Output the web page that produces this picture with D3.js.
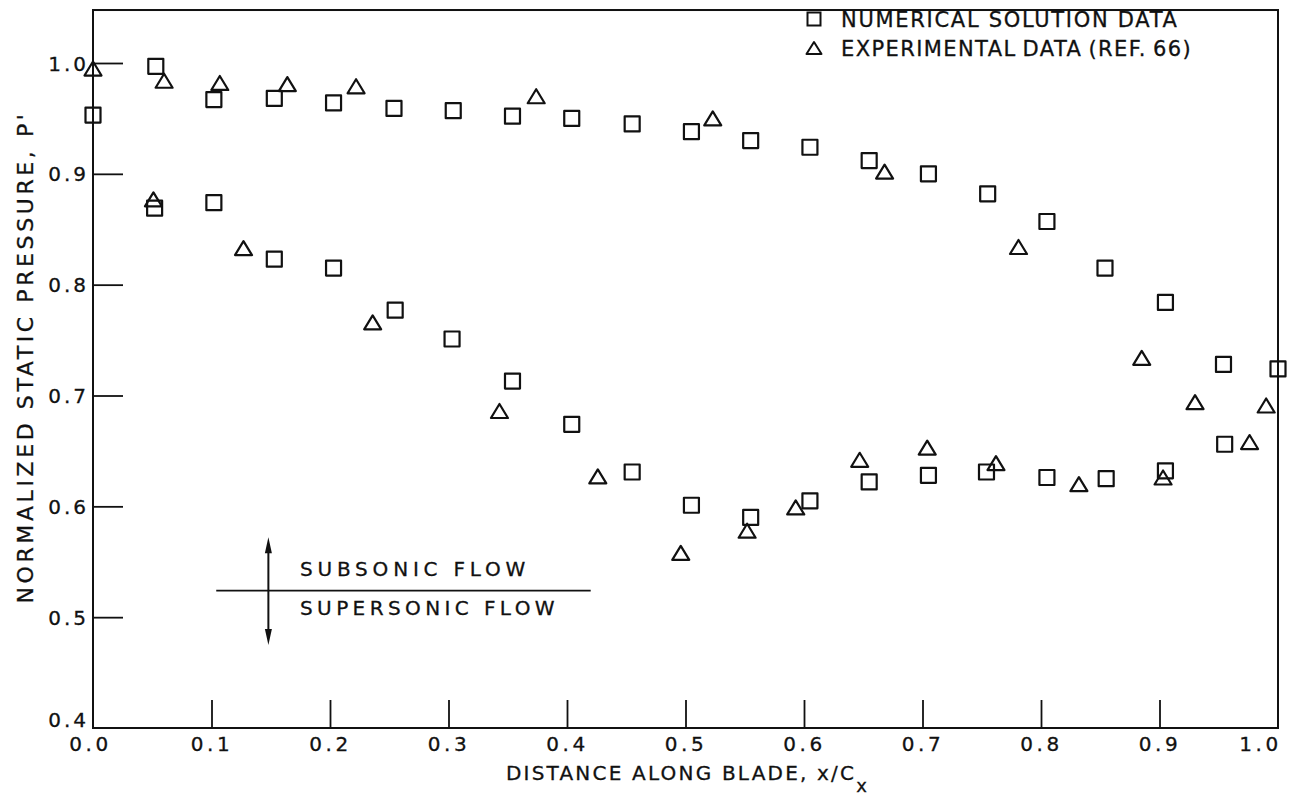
<!DOCTYPE html>
<html>
<head>
<meta charset="utf-8">
<script src="https://cdn.jsdelivr.net/npm/d3@7"></script>
<style>
  html, body { margin: 0; padding: 0; background: #fff; }
  svg { display: block; }
  text { font-family: "DejaVu Sans", sans-serif; fill: #111; stroke: #111; stroke-width: 0.3px; }
</style>
</head>
<body>
<svg id="chart" width="1292" height="800"></svg>
<script>
// ---------------- DATA ----------------
const xTicks = [0.0, 0.1, 0.2, 0.3, 0.4, 0.5, 0.6, 0.7, 0.8, 0.9, 1.0];
const yTicks = [0.4, 0.5, 0.6, 0.7, 0.8, 0.9, 1.0];

// Numerical solution data (squares) - upper branch
const numUpperX = [0.0, 0.053, 0.102, 0.153, 0.203, 0.254, 0.304, 0.354, 0.404, 0.455, 0.505, 0.555, 0.605, 0.655, 0.705, 0.755, 0.805, 0.854, 0.905, 0.954, 1.0];
const numUpperY = [0.953, 0.997, 0.967, 0.968, 0.964, 0.959, 0.957, 0.952, 0.950, 0.945, 0.938, 0.930, 0.924, 0.912, 0.900, 0.882, 0.857, 0.815, 0.784, 0.728, 0.724];
// Numerical solution data (squares) - lower branch
const numLowerX = [0.052, 0.102, 0.153, 0.203, 0.255, 0.303, 0.354, 0.404, 0.455, 0.505, 0.555, 0.605, 0.655, 0.705, 0.754, 0.805, 0.855, 0.905, 0.955];
const numLowerY = [0.869, 0.874, 0.823, 0.815, 0.777, 0.751, 0.713, 0.674, 0.631, 0.601, 0.590, 0.605, 0.622, 0.628, 0.631, 0.626, 0.625, 0.632, 0.656];

// Experimental data (triangles)
const expUpperX = [0.0, 0.060, 0.107, 0.164, 0.222, 0.374, 0.523, 0.668, 0.781, 0.885, 0.930, 0.990];
const expUpperY = [0.995, 0.984, 0.982, 0.981, 0.979, 0.970, 0.950, 0.902, 0.834, 0.734, 0.694, 0.691];
const expLowerX = [0.051, 0.127, 0.236, 0.343, 0.426, 0.496, 0.552, 0.593, 0.647, 0.704, 0.762, 0.832, 0.903, 0.976];
const expLowerY = [0.877, 0.833, 0.766, 0.686, 0.627, 0.558, 0.578, 0.599, 0.642, 0.653, 0.639, 0.620, 0.626, 0.658];

const legendLabels = ["NUMERICAL SOLUTION DATA", "EXPERIMENTAL DATA (REF. 66)"];
const flowLabels = ["SUBSONIC FLOW", "SUPERSONIC FLOW"];
const sonicLevel = 0.524;      // boundary line value
const arrowRange = [0.572, 0.475];
const arrowX = 0.148;
const lineRange = [0.104, 0.420];

// ---------------- LAYOUT ----------------
const svg = d3.select("#chart");
const x = d3.scaleLinear().domain([0, 1]).range([93, 1278]);
const y = d3.scaleLinear().domain([0.4, 1.0]).range([728, 63]);
const yTop = 1.0478;

const ink = "#111";

// Frame
svg.append("rect")
  .attr("x", x(0)).attr("y", y(yTop))
  .attr("width", x(1) - x(0)).attr("height", y(0.4) - y(yTop))
  .attr("fill", "none").attr("stroke", ink).attr("stroke-width", 2);

// Y axis (ticks inward)
const yAxis = d3.axisLeft(y).tickValues(yTicks).tickSize(-30).tickPadding(4)
  .tickFormat(d3.format(".1f"));
const gy = svg.append("g").attr("transform", `translate(${x(0)},0)`).call(yAxis);
gy.select(".domain").remove();
gy.selectAll(".tick line").attr("stroke", ink).attr("stroke-width", 1.8)
  .filter(d => d === 0.4).remove();
gy.selectAll(".tick text")
  .attr("font-size", 20).attr("letter-spacing", "3px")
  .attr("font-family", "DejaVu Sans, sans-serif").attr("fill", ink)
  .attr("dy", d => d === 0.4 ? "-0.1em" : "0.35em");

// X axis (ticks inward / upward)
const xAxis = d3.axisBottom(x).tickValues(xTicks).tickSize(-28).tickPadding(9)
  .tickFormat(d3.format(".1f"));
const gx = svg.append("g").attr("transform", `translate(0,${y(0.4)})`).call(xAxis);
gx.select(".domain").remove();
gx.selectAll(".tick line").attr("stroke", ink).attr("stroke-width", 1.8)
  .filter(d => d === 0 || d === 1).remove();
gx.selectAll(".tick text")
  .attr("font-size", 20).attr("letter-spacing", "3.5px")
  .attr("font-family", "DejaVu Sans, sans-serif").attr("fill", ink)
  .attr("dx", d => d === 1 ? -18 : (d === 0 ? -3 : 0));

// Axis titles
const xt = svg.append("text").attr("x", 506).attr("y", 780)
  .attr("font-size", 20).attr("letter-spacing", "2.2px");
xt.append("tspan").text("DISTANCE ALONG BLADE, x/C");
xt.append("tspan").attr("dy", 12).attr("font-size", 18).text("x");

svg.append("text")
  .attr("transform", `translate(33,${357}) rotate(-90)`)
  .attr("text-anchor", "middle")
  .attr("font-size", 22).attr("letter-spacing", "3.6px")
  .text("NORMALIZED STATIC PRESSURE, P'");

// ---------------- MARKERS ----------------
const sq = 15, triW = 17, triH = 14;
const squarePath = `M${-sq/2},${-sq/2}h${sq}v${sq}h${-sq}Z`;
const triPath = `M0,${-triH/2}L${triW/2},${triH/2}L${-triW/2},${triH/2}Z`;

function drawSet(xs, ys, path) {
  svg.append("g").selectAll("path")
    .data(xs.map((v, i) => ({x: v, y: ys[i]})))
    .join("path")
    .attr("d", path)
    .attr("transform", d => `translate(${x(d.x)},${y(d.y)})`)
    .attr("fill", "none").attr("stroke", ink).attr("stroke-width", 2.2)
    .attr("stroke-linejoin", "round");
}
drawSet(numUpperX, numUpperY, squarePath);
drawSet(numLowerX, numLowerY, squarePath);
drawSet(expUpperX, expUpperY, triPath);
drawSet(expLowerX, expLowerY, triPath);

// ---------------- LEGEND ----------------
const legX = 814, legY = [19, 48];
const lg = svg.append("g");
lg.append("path").attr("d", `M-6.5,-6.5h13v13h-13Z`)
  .attr("transform", `translate(${legX},${legY[0]})`)
  .attr("fill", "none").attr("stroke", ink).attr("stroke-width", 2);
lg.append("path").attr("d", `M0,-6L7.5,6L-7.5,6Z`)
  .attr("transform", `translate(${legX},${legY[1]})`)
  .attr("fill", "none").attr("stroke", ink).attr("stroke-width", 2).attr("stroke-linejoin", "round");
legendLabels.forEach((t, i) => {
  lg.append("text").attr("x", legX + 27).attr("y", legY[i]).attr("dy", "0.36em")
    .attr("font-size", 21).attr("letter-spacing", i === 0 ? "1.7px" : "1.4px")
    .attr("word-spacing", i === 0 ? "0px" : "-2px").text(t);
});

// ---------------- SONIC ANNOTATION ----------------
const ann = svg.append("g");
ann.append("line")
  .attr("x1", x(lineRange[0])).attr("x2", x(lineRange[1]))
  .attr("y1", y(sonicLevel)).attr("y2", y(sonicLevel))
  .attr("stroke", ink).attr("stroke-width", 1.8);
ann.append("line")
  .attr("x1", x(arrowX)).attr("x2", x(arrowX))
  .attr("y1", y(arrowRange[0]) + 10).attr("y2", y(arrowRange[1]) - 10)
  .attr("stroke", ink).attr("stroke-width", 2);
// arrowheads
ann.append("path")
  .attr("d", `M0,0L-3.5,16L3.5,16Z`)
  .attr("transform", `translate(${x(arrowX)},${y(arrowRange[0])})`)
  .attr("fill", ink);
ann.append("path")
  .attr("d", `M0,0L-3.5,-16L3.5,-16Z`)
  .attr("transform", `translate(${x(arrowX)},${y(arrowRange[1])})`)
  .attr("fill", ink);
ann.append("text").attr("x", 300).attr("y", y(sonicLevel) - 15)
  .attr("font-size", 20).attr("letter-spacing", "4.8px").text(flowLabels[0]);
ann.append("text").attr("x", 300).attr("y", y(sonicLevel) + 24)
  .attr("font-size", 20).attr("letter-spacing", "4.4px").text(flowLabels[1]);
</script>
</body>
</html>
